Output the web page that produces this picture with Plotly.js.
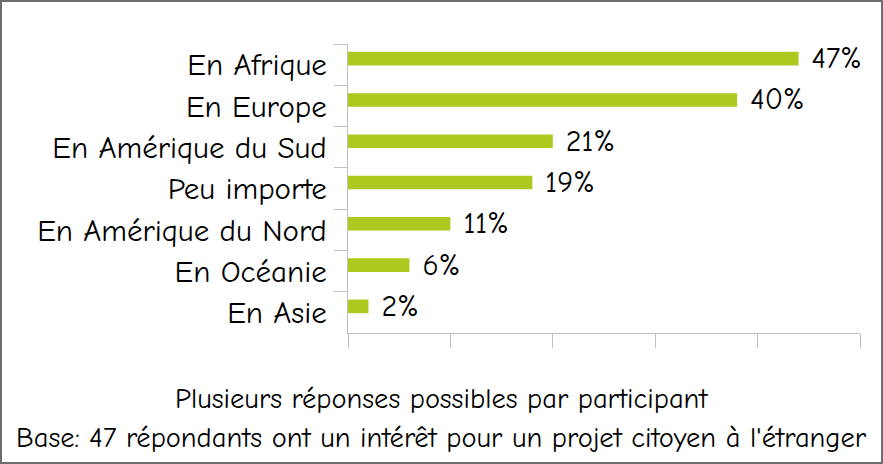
<!DOCTYPE html>
<html>
<head>
<meta charset="utf-8">
<script src="https://cdn.plot.ly/plotly-3.0.1.min.js"></script>
<style>
html,body{margin:0;padding:0;background:#fff;}
#wrap{position:relative;width:883px;height:464px;}
#chart{width:883px;height:464px;}
#frame{position:absolute;left:0;top:0;width:879px;height:460px;border:2px solid #6e6e6e;pointer-events:none;}
</style>
</head>
<body>
<div id="wrap"><div id="chart"></div><div id="frame"></div></div>
<script>
// Categories (top to bottom)
const categories = ["En Afrique", "En Europe", "En Amérique du Sud", "Peu importe", "En Amérique du Nord", "En Océanie", "En Asie"];
// Number of respondents (base 47)
const counts = [22, 19, 10, 9, 5, 3, 1];
// Percentage labels shown next to bars
const pctLabels = ["47%", "40%", "21%", "19%", "11%", "6%", "2%"];
const noteLine1 = "Plusieurs réponses possibles par participant";
const noteLine2 = "Base: 47 répondants ont un intérêt pour un projet citoyen à l'étranger";

const FONT = "Comic Sans MS, Comic Neue, DejaVu Sans, sans-serif";

const trace = {
  type: "bar",
  orientation: "h",
  y: categories,
  x: counts,
  width: 0.33,
  offset: -0.31,
  text: pctLabels.map(t => " " + t),
  textposition: "outside",
  constraintext: "none",
  cliponaxis: false,
  textfont: {family: FONT, size: 30, color: "#000"},
  marker: {color: "#adc81e"},
  hoverinfo: "skip"
};

const layout = {
  width: 883, height: 464,
  margin: {l: 348, r: 23, t: 44, b: 131, pad: 0},
  paper_bgcolor: "#fff", plot_bgcolor: "#fff",
  showlegend: false,
  font: {family: FONT, color: "#000"},
  xaxis: {
    range: [0, 25], dtick: 5, tick0: 0,
    showticklabels: false, showgrid: false, zeroline: false,
    showline: true, linecolor: "#bfbfbf", linewidth: 1,
    ticks: "outside", ticklen: 14, tickcolor: "#bfbfbf", tickwidth: 1
  },
  yaxis: {
    autorange: "reversed",
    type: "category",
    showgrid: false, zeroline: false,
    showline: true, linecolor: "#bfbfbf", linewidth: 1,
    ticks: "outside", ticklen: 13, tickcolor: "#bfbfbf", tickwidth: 1,
    tickson: "boundaries",
    tickfont: {family: FONT, size: 31, color: "#000"},
    ticklabelstandoff: 14
  },
  annotations: [
    {xref: "paper", yref: "paper", xanchor: "center", yanchor: "middle",
     text: noteLine1, showarrow: false, font: {family: FONT, size: 28.5, color: "#000"}},
    {xref: "paper", yref: "paper", xanchor: "center", yanchor: "middle",
     text: noteLine2, showarrow: false, font: {family: FONT, size: 28.5, color: "#000"}}
  ]
};

// center annotations on full figure width instead of plot area
const plotW = 883 - 348 - 23;
const plotH = 464 - 44 - 131;
const centerPaper = (883 / 2 - 348) / plotW;
layout.annotations.forEach(a => a.x = centerPaper);
layout.annotations[0].y = -(398 - 333) / plotH;
layout.annotations[1].y = -(437 - 333) / plotH;

Plotly.newPlot("chart", [trace], layout, {displayModeBar: false, staticPlot: true});
</script>
</body>
</html>
